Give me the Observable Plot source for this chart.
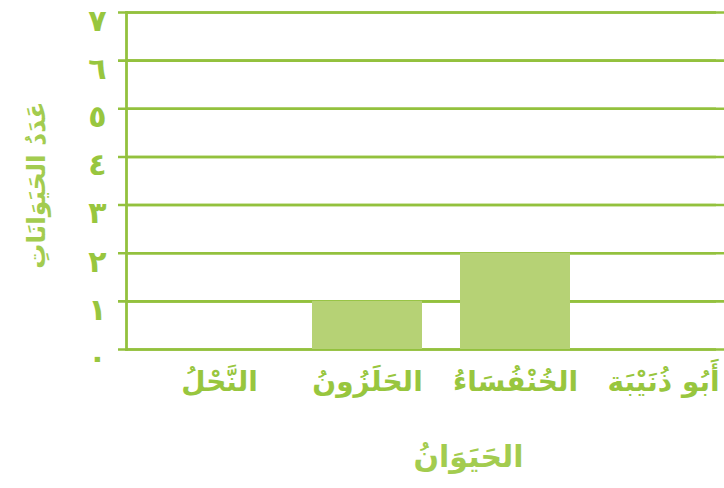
<!DOCTYPE html>
<html>
<head>
<meta charset="utf-8">
<script src="https://cdn.jsdelivr.net/npm/d3@7"></script>
<script src="https://cdn.jsdelivr.net/npm/@observablehq/plot@0.6"></script>
<style>
  html, body { margin: 0; padding: 0; background: #fff; }
  #chart svg { display: block; }
</style>
</head>
<body>
<div id="chart"></div>
<script>
const animals = ["النَّحْلُ", "الحَلَزُونُ", "الخُنْفُسَاءُ", "أَبُو ذُنَيْبَة"];
const counts = [0, 1, 2, 0];
const yTicks = [0, 1, 2, 3, 4, 5, 6, 7];
const yTickLabels = ["٠", "١", "٢", "٣", "٤", "٥", "٦", "٧"];
const yTitle = "عَدَدُ الحَيَوَانَاتِ";
const xTitle = "الحَيَوَانُ";

const data = animals.map((a, i) => ({animal: a, count: counts[i]}));
const ticks = yTicks.map((v, i) => ({v, label: yTickLabels[i]}));

const lineColor = "#93c13e";
const barColor = "#b6d275";
const textColor = "#98c63e";
const font = "DejaVu Sans";

const chart = Plot.plot({
  width: 724,
  height: 488,
  marginLeft: 126,
  marginRight: 0,
  marginTop: 12,
  marginBottom: 139,
  style: {fontFamily: font, background: "#fff"},
  x: {domain: animals, range: [145, 737], paddingInner: 0.26, paddingOuter: 0.13, axis: null},
  y: {domain: [0, 7], axis: null},
  marks: [
    Plot.ruleY(yTicks, {stroke: lineColor, strokeWidth: 2.6}),
    Plot.ruleY(yTicks, {stroke: lineColor, strokeWidth: 2.6, dx: -8}),
    Plot.barY(data, {x: "animal", y: "count", fill: barColor}),
    Plot.frame({anchor: "left", stroke: lineColor, strokeWidth: 2.8}),
    Plot.text(ticks, {y: "v", text: "label", frameAnchor: "left", dx: -29, lineAnchor: "top", textAnchor: "middle",
      fill: textColor, fontSize: 30, fontWeight: "bold", dy: -3}),
    Plot.text(data, {x: "animal", text: "animal", frameAnchor: "bottom", dy: 33, lineAnchor: "middle", textAnchor: "middle",
      fill: textColor, fontSize: 28, fontWeight: "bold"}),
    Plot.text([xTitle], {text: d => d, frameAnchor: "bottom", dx: 43, dy: 108, lineAnchor: "middle", textAnchor: "middle",
      fill: "#a3cc4f", fontSize: 30, fontWeight: "bold"}),
    Plot.text([yTitle], {text: d => d, frameAnchor: "left", dx: -90, dy: 4, rotate: -90, lineAnchor: "middle", textAnchor: "middle",
      fill: "#a3cc4f", fontSize: 25, fontWeight: "bold"})
  ]
});
document.getElementById("chart").appendChild(chart);
</script>
</body>
</html>
